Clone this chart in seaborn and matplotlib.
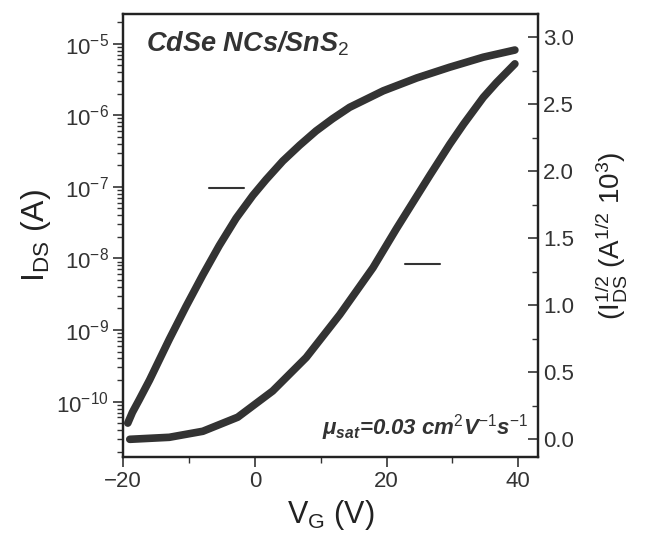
import numpy as np
import pandas as pd
import matplotlib
matplotlib.use('Agg')
import matplotlib.pyplot as plt
import matplotlib.ticker as mticker
import seaborn as sns

# transfer curve, log scale (left axis): V_G and log10(I_DS)
vg_log = [-19.3, -18.6, -17.6, -16.0, -13.0, -10.45, -7.9, -5.4, -2.85, -0.3, 1.7,
          4.25, 6.8, 9.3, 11.8, 14.4, 19.5, 24.6, 29.6, 34.7, 39.5]
logi = [-10.30, -10.15, -9.98, -9.70, -9.13, -8.67, -8.23, -7.82, -7.44, -7.12, -6.90,
        -6.64, -6.42, -6.22, -6.05, -5.89, -5.66, -5.48, -5.33, -5.19, -5.09]

# sqrt(I_DS) x 10^3 (right axis)
vg_sqrt = [-19.0, -13.0, -7.9, -2.6, 2.7, 7.8, 12.9, 17.95, 21.5, 26.6, 29.6, 31.7,
           34.7, 36.7, 39.5]
ids_sqrt = [0.00, 0.015, 0.06, 0.165, 0.36, 0.61, 0.93, 1.28, 1.57, 1.97, 2.20, 2.35,
            2.55, 2.66, 2.80]

log_ticks = [1e-10, 1e-9, 1e-8, 1e-7, 1e-6, 1e-5]

sns.set_style('ticks')
plt.rcParams['font.family'] = ['Liberation Sans', 'DejaVu Sans']
plt.rcParams['mathtext.fontset'] = 'custom'
plt.rcParams['mathtext.rm'] = 'Liberation Sans'
plt.rcParams['mathtext.it'] = 'Liberation Sans:italic:bold'
plt.rcParams['mathtext.bf'] = 'Liberation Sans:bold'

fig = plt.figure(figsize=(6.45, 5.47), dpi=100)
ax = fig.add_axes([0.191, 0.165, 0.643, 0.809])
ax2 = ax.twinx()

line_col = '#333333'
df_log = pd.DataFrame({'VG': vg_log, 'IDS': [10.0**v for v in logi]})
df_sqrt = pd.DataFrame({'VG': vg_sqrt, 'IDS': ids_sqrt})
sns.lineplot(data=df_log, x='VG', y='IDS', ax=ax, color=line_col, lw=5.5, sort=False)
sns.lineplot(data=df_sqrt, x='VG', y='IDS', ax=ax2, color=line_col, lw=5.5, sort=False)

ax.set_yscale('log')
ax.set_xlim(-20, 43)
ax.set_ylim(10**-10.77, 10**-4.59)
ax2.set_ylim(-0.13, 3.17)

ax.set_xticks([-20, 0, 20, 40])
ax.set_xticks([-10, 10, 30], minor=True)
ax.set_yticks(log_ticks)
ax.yaxis.set_major_formatter(mticker.LogFormatterMathtext())
minor_y = [m * t for t in [1e-11] + log_ticks for m in range(2, 10)]
ax.set_yticks([v for v in minor_y if 10**-10.77 < v < 10**-4.59], minor=True)
ax.yaxis.set_minor_formatter(mticker.NullFormatter())
ax2.set_yticks([0.0, 0.5, 1.0, 1.5, 2.0, 2.5, 3.0])
ax2.set_yticks([0.25, 0.75, 1.25, 1.75, 2.25, 2.75], minor=True)
ax2.yaxis.set_major_formatter(mticker.FormatStrFormatter('%.1f'))

tc = '#333333'
ax.tick_params(axis='both', which='major', direction='out', length=7, width=1.2,
               labelsize=16, colors=tc)
ax.tick_params(axis='both', which='minor', direction='out', length=4, width=1.0, colors=tc)
ax2.tick_params(axis='y', which='major', direction='in', length=7, width=1.2,
                labelsize=16, colors=tc)
ax2.tick_params(axis='y', which='minor', direction='in', length=4, width=1.0, colors=tc)
for a in (ax, ax2):
    for s in a.spines.values():
        s.set_linewidth(1.6)
        s.set_color('#222222')

ax.set_xlabel(r'V$_\mathrm{G}$ (V)', fontsize=22, color='#222222', labelpad=4)
ax.set_ylabel(r'I$_\mathrm{DS}$ (A)', fontsize=23, color='#222222', labelpad=2)
ax2.set_xlabel('')
ax2.set_ylabel(r'(I$_\mathrm{DS}^\mathrm{1/2}$ (A$^\mathrm{1/2}$ 10$^\mathrm{3}$)', fontsize=20,
               color='#222222', labelpad=14)

ax.text(0.055, 0.965, r'CdSe NCs/SnS$_\mathrm{2}$', transform=ax.transAxes, fontsize=19.5,
        style='italic', weight='bold', color='#333333', va='top', ha='left')
ax.text(0.975, 0.03, r'$\mu_{sat}$=0.03 cm$^\mathrm{2}$V$^\mathrm{-1}$s$^\mathrm{-1}$',
        transform=ax.transAxes, fontsize=16, style='italic', weight='bold',
        color='#333333', va='bottom', ha='right')

# short markers pointing to each curve's axis
ax.plot([-6.9, -1.6], [10**-7.02, 10**-7.02], color=line_col, lw=1.5)
ax2.plot([22.8, 28.1], [1.31, 1.31], color=line_col, lw=1.5)

fig.savefig('out.png', dpi=100)
